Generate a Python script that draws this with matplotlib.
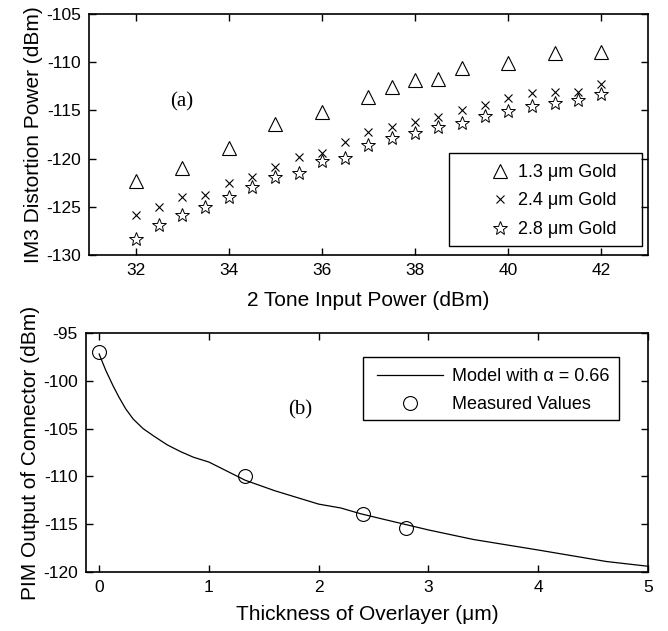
import numpy as np
import matplotlib
matplotlib.use('Agg')
from matplotlib import pyplot as plt
from matplotlib.patches import Rectangle

''' Data (a) '''
pin_13 = [32, 33, 34, 35, 36, 37, 37.5, 38, 38.5, 39, 40, 41, 42]
im3_13 = [-122.3, -121.0, -118.9, -116.4, -115.2, -113.6, -112.6, -111.8, -111.7,
          -110.6, -110.1, -109.0, -108.9]

pin_24 = [32, 32.5, 33, 33.5, 34, 34.5, 35, 35.5, 36, 36.5, 37, 37.5, 38, 38.5,
          39, 39.5, 40, 40.5, 41, 41.5, 42]
im3_24 = [-125.85, -125.0, -124.0, -123.8, -122.5, -121.9, -120.9, -119.8, -119.4,
          -118.3, -117.2, -116.7, -116.2, -115.7, -115.0, -114.4, -113.7, -113.2,
          -113.1, -113.1, -112.3]

pin_28 = pin_24
im3_28 = [-128.3, -126.9, -125.85, -125.0, -124.0, -122.9, -121.9, -121.5, -120.2,
          -119.9, -118.6, -117.9, -117.3, -116.7, -116.3, -115.6, -115.1, -114.5,
          -114.2, -113.9, -113.3]

''' Data (b) '''
model_t = [0, 0.06, 0.13, 0.18, 0.24, 0.31, 0.40, 0.50, 0.62, 0.74, 0.86, 1.0,
           1.33, 1.6, 2.0, 2.2, 2.38, 2.56, 2.78, 3.0, 3.41, 4.0, 4.62, 5.0]
model_pim = [-97.2, -98.9, -100.6, -101.7, -102.9, -104.0, -105.0, -105.8, -106.7,
             -107.4, -108.0, -108.5, -110.4, -111.5, -112.9, -113.3, -113.9, -114.4,
             -115.0, -115.6, -116.6, -117.7, -118.9, -119.4]
meas_t = [0, 1.33, 2.4, 2.8]
meas_pim = [-97.0, -110.0, -113.9, -115.4]

plt.rcParams['font.family'] = ['Liberation Sans', 'DejaVu Sans']
plt.rcParams['axes.unicode_minus'] = False

fig = plt.figure(figsize=(6.68, 6.31), dpi=100)
ax1 = fig.add_axes([0.1332, 0.5959, 0.8368, 0.3819])
ax2 = fig.add_axes([0.1287, 0.0935, 0.8413, 0.3788])

for ax in (ax1, ax2):
    ax.tick_params(direction='in', top=True, right=True, length=5, width=1,
                   labelsize=12.5, pad=6)
    for s in ax.spines.values():
        s.set_linewidth(1.2)

''' Plot (a) '''
ax1.plot(pin_13, im3_13, '^', ms=10, mfc='none', mec='k', mew=0.8,
         label='1.3 μm Gold')
ax1.plot(pin_24, im3_24, 'x', ms=6, mec='k', mew=0.8, label='2.4 μm Gold')
ax1.plot(pin_28, im3_28, '*', ms=10, mfc='none', mec='k', mew=0.7,
         label='2.8 μm Gold')
ax1.set_xlim(31, 43)
ax1.set_ylim(-130, -105)
ax1.set_xticks([32, 34, 36, 38, 40, 42])
ax1.set_yticks([-130, -125, -120, -115, -110, -105])
ax1.set_xlabel('2 Tone Input Power (dBm)', fontsize=15, labelpad=9)
ax1.set_ylabel('IM3 Distortion Power (dBm)', fontsize=15, labelpad=2)
ax1.text(33.0, -114.1, '(a)', fontsize=15, family='Liberation Serif',
         ha='center', va='center')
ax1.legend(loc='upper left', bbox_to_anchor=(0.703, 0.378), borderaxespad=0,
           borderpad=0, fontsize=13, frameon=False, handlelength=2.0,
           handletextpad=0.0, labelspacing=0.64)
ax1.add_patch(Rectangle((0.644, 0.037), 0.345, 0.386, transform=ax1.transAxes,
                        fill=False, ec='k', lw=1.0, zorder=5))

''' Plot (b) '''
ax2.plot(model_t, model_pim, 'k-', lw=0.9, label='Model with α = 0.66')
ax2.plot(meas_t, meas_pim, 'o', ms=10, mfc='none', mec='k', mew=0.8,
         label='Measured Values')
ax2.set_xlim(-0.12, 5)
ax2.set_ylim(-120, -95)
ax2.set_xticks([0, 1, 2, 3, 4, 5])
ax2.set_yticks([-120, -115, -110, -105, -100, -95])
ax2.set_xlabel('Thickness of Overlayer (μm)', fontsize=15, labelpad=7)
ax2.set_ylabel('PIM Output of Connector (dBm)', fontsize=15, labelpad=2)
ax2.text(1.83, -103.0, '(b)', fontsize=15, family='Liberation Serif',
         ha='center', va='center')
ax2.legend(loc='upper left', bbox_to_anchor=(0.518, 0.853), borderaxespad=0,
           borderpad=0, fontsize=13, frameon=False, handlelength=3.65,
           handletextpad=0.5, labelspacing=0.62)
ax2.add_patch(Rectangle((0.493, 0.636), 0.455, 0.264, transform=ax2.transAxes,
                        fill=False, ec='k', lw=1.0, zorder=5))

fig.savefig('out.png', dpi=100)
